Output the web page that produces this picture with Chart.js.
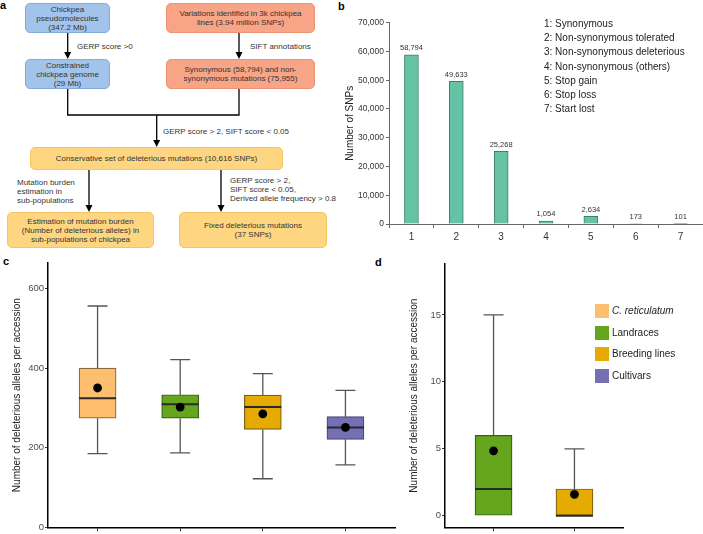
<!DOCTYPE html>
<html>
<head>
<meta charset="utf-8">
<script src="https://cdn.jsdelivr.net/npm/chart.js@4.4.1/dist/chart.umd.min.js"></script>
<style>
  body { margin: 0; background: #fff; font-family: "Liberation Sans", Arial, sans-serif; }
  #page { position: relative; width: 703px; height: 534px; overflow: hidden; }
  canvas { position: absolute; }
  .tag { position: absolute; font-weight: bold; font-size: 11px; color: #000; }
  .box { position: absolute; box-sizing: border-box; border-radius: 5px; display: flex;
         align-items: center; justify-content: center; text-align: center;
         font-size: 8px; line-height: 9px; color: #333; }
  .blue { background: #a3c4ea; border: 1px solid #86abdb; }
  .salmon { background: #f7a487; border: 1px solid #ee9072; }
  .yellow { background: #fed681; border: 1px solid #f6c462; }
  .note { position: absolute; font-size: 8px; line-height: 9px; color: #333; white-space: nowrap; }
  #snpKey { position: absolute; left: 544px; top: 17px; font-size: 10px; line-height: 14.2px; color: #222; }
  #groupKey { position: absolute; left: 595px; top: 304px; font-size: 10px; color: #222; }
  #groupKey div { height: 21.7px; display: flex; align-items: flex-start; }
  #groupKey span.sw { display: inline-block; width: 14px; height: 14px; margin-right: 3px; }
  #groupKey span.tx { line-height: 14px; }
</style>
</head>
<body>
<div id="page">
  <!-- panel a: flow chart -->
  <svg width="340" height="255" style="position:absolute;left:0;top:0">
    <g stroke="#000" stroke-width="1.3" fill="none">
      <line x1="67.7" y1="33" x2="67.7" y2="52"/>
      <line x1="239" y1="33" x2="239" y2="52"/>
      <polyline points="67.7,89 67.7,115 239,115 239,89"/>
      <line x1="156.7" y1="115" x2="156.7" y2="140"/>
      <line x1="89" y1="170" x2="89" y2="205"/>
      <line x1="221" y1="170" x2="221" y2="205"/>
    </g>
    <g fill="#000">
      <path d="M64.2,52 L71.2,52 L67.7,59 z"/>
      <path d="M235.5,52 L242.5,52 L239,59 z"/>
      <path d="M153.2,140 L160.2,140 L156.7,147 z"/>
      <path d="M85.5,205 L92.5,205 L89,212 z"/>
      <path d="M217.5,205 L224.5,205 L221,212 z"/>
    </g>
  </svg>
  <div class="box blue" style="left:25px;top:3px;width:85px;height:30px">Chickpea<br>pseudomolecules<br>(347.2 Mb)</div>
  <div class="box blue" style="left:25px;top:59px;width:85px;height:30px">Constrained<br>chickpea genome<br>(29 Mb)</div>
  <div class="box salmon" style="left:166px;top:3px;width:149px;height:30px">Variations identified in 3k chickpea<br>lines (3.94 million SNPs)</div>
  <div class="box salmon" style="left:166px;top:59px;width:149px;height:30px">Synonymous (58,794) and non-<br>synonymous mutations (75,955)</div>
  <div class="box yellow" style="left:30px;top:147px;width:253px;height:23px">Conservative set of deleterious mutations (10,616 SNPs)</div>
  <div class="box yellow" style="left:7px;top:212px;width:147px;height:36px">Estimation of mutation burden<br>(Number of deleterious alleles) in<br>sub-populations of chickpea</div>
  <div class="box yellow" style="left:179px;top:212px;width:148px;height:36px">Fixed deleterious mutations<br>(37 SNPs)</div>
  <div class="note" style="left:77px;top:41.5px">GERP score &gt;0</div>
  <div class="note" style="left:250px;top:41.5px">SIFT annotations</div>
  <div class="note" style="left:163px;top:126.5px">GERP score &gt; 2, SIFT score &lt; 0.05</div>
  <div class="note" style="left:17px;top:178px">Mutation burden<br>estimation in<br>sub-populations</div>
  <div class="note" style="left:230px;top:176px">GERP score &gt; 2,<br>SIFT score &lt; 0.05,<br>Derived allele frequency &gt; 0.8</div>

  <div class="tag" style="left:0px;top:-1px">a</div>
  <div class="tag" style="left:338px;top:0px">b</div>
  <div class="tag" style="left:3px;top:255px">c</div>
  <div class="tag" style="left:375px;top:256px">d</div>

  <canvas id="snpChart" width="368" height="260" style="left:335px;top:0px"></canvas>
  <div id="snpKey"></div>
  <canvas id="burdenChart" width="400" height="284" style="left:0px;top:250px"></canvas>
  <canvas id="fixedChart" width="303" height="284" style="left:400px;top:250px"></canvas>
  <div id="groupKey"></div>
</div>
<script>
// panel b
const snpLabels = ['1', '2', '3', '4', '5', '6', '7'];
const snpClasses = ['Synonymous', 'Non-synonymous tolerated', 'Non-synonymous deleterious',
  'Non-synonymous (others)', 'Stop gain', 'Stop loss', 'Start lost'];
const snpCounts = [58794, 49633, 25268, 1054, 2634, 173, 101];
const snpTicks = [0, 10000, 20000, 30000, 40000, 50000, 60000, 70000];

// panel c / d groups
const groups = ['C. reticulatum', 'Landraces', 'Breeding lines', 'Cultivars'];
const groupColors = ['#fdbf6f', '#66a61e', '#e6ab02', '#7570b3'];
const groupEdges = ['#8a6a3e', '#3b5e16', '#7f6110', '#4a467a'];

// panel c: deleterious alleles per accession
const burdenMin = [185, 187, 122, 157];
const burdenQ1 = [274, 274, 246, 221];
const burdenMedian = [324, 309, 302, 251];
const burdenQ3 = [400, 333, 332, 278];
const burdenMax = [556, 421, 386, 344];
const burdenMean = [350, 302, 285, 251];
const burdenTicks = [0, 200, 400, 600];

// panel d: fixed deleterious alleles (Landraces, Breeding lines)
const fixedIdx = [1, 2];
const fixedMin = [0, 0];
const fixedQ1 = [0, 0];
const fixedMedian = [2, 0];
const fixedQ3 = [6, 2];
const fixedMax = [15, 5];
const fixedMean = [4.85, 1.6];
const fixedTicks = [0, 5, 10, 15];

const FONT = '"Liberation Sans", Arial, sans-serif';
const withCommas = v => String(v).replace(/\B(?=(\d{3})+(?!\d))/g, ',');

// legends as text
document.getElementById('snpKey').innerHTML =
  snpClasses.map((c, i) => `<div>${snpLabels[i]}: ${c}</div>`).join('');
document.getElementById('groupKey').innerHTML = groups.map((g, i) =>
  `<div><span class="sw" style="background:${groupColors[i]}"></span>` +
  `<span class="tx"${i === 0 ? ' style="font-style:italic"' : ''}>${g}</span></div>`).join('');

// bar chart (b)
const valueLabels = {
  id: 'valueLabels',
  afterDatasetsDraw(chart) {
    const ctx = chart.ctx;
    ctx.save();
    ctx.font = '7.5px ' + FONT;
    ctx.fillStyle = '#333';
    ctx.textAlign = 'center';
    ctx.textBaseline = 'bottom';
    chart.getDatasetMeta(0).data.forEach((bar, i) => {
      ctx.fillText(withCommas(snpCounts[i]), bar.x, bar.y - 3);
    });
    ctx.restore();
  }
};

new Chart(document.getElementById('snpChart'), {
  type: 'bar',
  data: {
    labels: snpLabels,
    datasets: [{
      data: snpCounts,
      backgroundColor: '#66c2a5',
      borderColor: '#3f7f6a',
      borderWidth: 1,
      barThickness: 14
    }]
  },
  options: {
    responsive: false,
    animation: false,
    devicePixelRatio: 1,
    events: [],
    layout: { padding: { top: 22.7, right: 0, bottom: 0, left: 0 } },
    plugins: { legend: { display: false }, tooltip: { enabled: false } },
    scales: {
      x: {
        grid: { drawOnChartArea: false, tickLength: 4, color: '#666' },
        border: { color: '#666', width: 1 },
        ticks: { color: '#333', font: { size: 10, family: FONT }, padding: 3 },
        afterFit: s => { s.height = 36; }
      },
      y: {
        min: 0, max: 70000,
        afterBuildTicks: s => { s.ticks = snpTicks.map(v => ({ value: v })); },
        grid: { drawOnChartArea: false, tickLength: 3, color: '#666' },
        border: { color: '#666', width: 1 },
        ticks: { color: '#333', font: { size: 8.5, family: FONT }, padding: 2, callback: v => withCommas(v) },
        title: { display: true, text: 'Number of SNPs', color: '#222', font: { size: 10, family: FONT }, padding: { top: 9, bottom: 0 } },
        afterFit: s => { s.width = 54; }
      }
    }
  },
  plugins: [valueLabels]
});

// box plots (c, d): box = floating bar, whiskers and medians drawn on the scales
function boxParts(stats) {
  return {
    id: 'boxParts',
    beforeDatasetsDraw(chart) {
      const { ctx, scales: { x, y } } = chart;
      ctx.save();
      ctx.strokeStyle = '#555';
      ctx.lineWidth = 1.3;
      stats.min.forEach((lo, i) => {
        const px = x.getPixelForValue(i + 1);
        ctx.beginPath();
        if (stats.max[i] > stats.q3[i]) {
          const top = y.getPixelForValue(stats.max[i]);
          ctx.moveTo(px, top); ctx.lineTo(px, y.getPixelForValue(stats.q3[i]));
          ctx.moveTo(px - 10, top); ctx.lineTo(px + 10, top);
        }
        if (lo < stats.q1[i]) {
          const bot = y.getPixelForValue(lo);
          ctx.moveTo(px, y.getPixelForValue(stats.q1[i])); ctx.lineTo(px, bot);
          ctx.moveTo(px - 10, bot); ctx.lineTo(px + 10, bot);
        }
        ctx.stroke();
      });
      ctx.restore();
    },
    afterDatasetDraw(chart, args) {
      if (args.meta.type !== 'bar') return;
      const { ctx, scales: { x, y } } = chart;
      ctx.save();
      ctx.strokeStyle = '#2a2a2a';
      ctx.lineWidth = 2;
      stats.median.forEach((m, i) => {
        const px = x.getPixelForValue(i + 1);
        const py = y.getPixelForValue(m);
        ctx.beginPath();
        ctx.moveTo(px - 18.5, py); ctx.lineTo(px + 18.5, py);
        ctx.stroke();
      });
      ctx.restore();
    }
  };
}

function boxChart(canvasId, stats, colorIdx, yMin, yMax, yTicks, yWidth, pad, titlePad) {
  const n = stats.min.length;
  return new Chart(document.getElementById(canvasId), {
    type: 'bar',
    data: {
      datasets: [{
        type: 'bar',
        data: stats.q1.map((q, i) => ({ x: i + 1, y: [q, stats.q3[i]] })),
        backgroundColor: colorIdx.map(k => groupColors[k]),
        borderColor: colorIdx.map(k => groupEdges[k]),
        borderWidth: 1.2,
        borderSkipped: false,
        barThickness: 37,
        order: 1
      }, {
        type: 'scatter',
        data: stats.mean.map((m, i) => ({ x: i + 1, y: m })),
        backgroundColor: '#000',
        borderWidth: 0,
        pointRadius: 4.4,
        order: 0
      }]
    },
    options: {
      responsive: false,
      animation: false,
      devicePixelRatio: 1,
      events: [],
      layout: { padding: pad },
      plugins: { legend: { display: false }, tooltip: { enabled: false } },
      scales: {
        x: {
          type: 'linear',
          min: 0.4, max: n + 0.6,
          offset: false,
          afterBuildTicks: s => { s.ticks = stats.min.map((_, i) => ({ value: i + 1 })); },
          grid: { offset: false, drawOnChartArea: false, tickLength: 4, color: '#333' },
          border: { color: '#000', width: 1.5 },
          ticks: { callback: () => '' },
          afterFit: s => { s.height = 3.3; }
        },
        y: {
          min: yMin, max: yMax,
          afterBuildTicks: s => { s.ticks = yTicks.map(v => ({ value: v })); },
          grid: { drawOnChartArea: false, tickLength: 3, color: '#333' },
          border: { color: '#000', width: 1.5 },
          ticks: { color: '#4d4d4d', font: { size: 9.5, family: FONT }, padding: 1 },
          title: { display: true, text: 'Number of deleterious alleles per accession', color: '#222',
                   font: { size: 10, family: FONT }, padding: { top: titlePad, bottom: 0 } },
          afterFit: s => { s.width = yWidth; }
        }
      }
    },
    plugins: [boxParts(stats)]
  });
}

boxChart('burdenChart',
  { min: burdenMin, q1: burdenQ1, median: burdenMedian, q3: burdenQ3, max: burdenMax, mean: burdenMean },
  [0, 1, 2, 3], 0, 664, burdenTicks, 48, { top: 13, right: 5, bottom: 0, left: 0 }, 11);

boxChart('fixedChart',
  { min: fixedMin, q1: fixedQ1, median: fixedMedian, q3: fixedQ3, max: fixedMax, mean: fixedMean },
  fixedIdx, -0.86, 18.8, fixedTicks, 45, { top: 14, right: 80, bottom: 0, left: 0 }, 8);
</script>
</body>
</html>
